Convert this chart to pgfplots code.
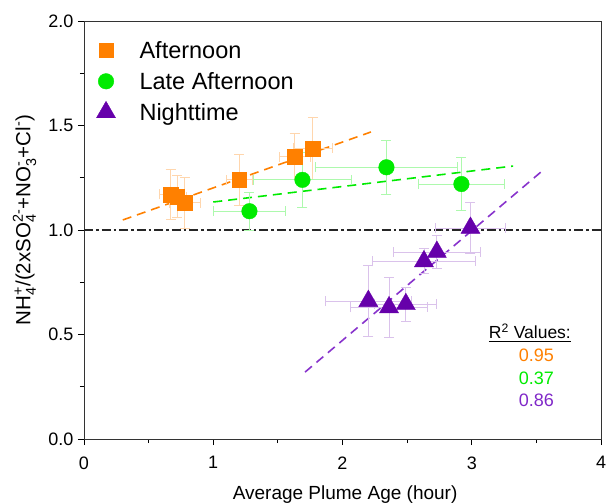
\documentclass[border=0pt]{standalone}
\usepackage{amsmath}
\usepackage{fontspec}
\setmainfont{Liberation Sans}
\usepackage{pgfplots}
\pgfplotsset{compat=1.18}
\definecolor{cOr}{RGB}{255,128,0}
\definecolor{cGr}{RGB}{0,235,0}
\definecolor{cPu}{RGB}{102,0,170}
\definecolor{cPuL}{RGB}{136,51,204}
\definecolor{cPuT}{RGB}{128,40,200}
\begin{document}
\begin{tikzpicture}
\begin{axis}[
  scale only axis, width=517bp, height=418bp,
  xmin=0, xmax=4, ymin=0, ymax=2,
  xtick={0,1,2,3,4}, ytick={0,0.5,1,1.5,2},
  minor xtick={0.5,1.5,2.5,3.5}, minor ytick={0.25,0.75,1.25,1.75},
  yticklabel style={xshift=-1bp, /pgf/number format/.cd, fixed, fixed zerofill, precision=1},
  /pgf/number format/assume math mode=true,
  tick pos=left, tick align=outside,
  major tick length=6bp, minor tick length=4bp,
  every tick/.style={black, line width=0.8pt},
  axis line style={line width=0.9pt, black!80},
  ticklabel style={font=\fontsize{18bp}{20bp}\selectfont},
  xticklabel style={yshift=-8bp},
  xlabel={Average Plume Age (hour)},
  ylabel={NH$_{\text{4}}^{\text{+}}$/(2xSO$_{\text{4}}^{\text{2-}}$+NO$_{\text{3}}^{\text{-}}$+Cl$^{\text{-}}$)},
  every axis x label/.style={at={(axis description cs:0.505,-0.134)}, anchor=center, font=\fontsize{19bp}{22bp}\selectfont},
  every axis y label/.style={at={(axis description cs:-0.115,0.524)}, rotate=90, anchor=center, font=\fontsize{20.5bp}{23bp}\selectfont},
  legend style={at={(axis description cs:0.018,0.962)}, anchor=north west, draw=none, fill=none,
    font=\fontsize{23.5bp}{26bp}\selectfont, row sep=8.5bp, cells={anchor=west}},
  legend cell align=left,
  clip=false,
]
% fit lines
\addplot[cOr, line width=1.6pt, dash pattern=on 9bp off 6bp, forget plot] coordinates {(0.30,1.048) (2.22,1.469)};
\addplot[cGr, line width=1.6pt, dash pattern=on 9bp off 6bp, forget plot] coordinates {(1.00,1.134) (3.32,1.306)};
\addplot[cPuL, line width=1.6pt, dash pattern=on 9bp off 6bp, forget plot] coordinates {(1.71,0.32) (3.54,1.28)};
% 1.0 reference line
\addplot[black!85, line width=1.3pt, dash pattern=on 9bp off 3bp on 2.5bp off 3bp, forget plot] coordinates {(0,1) (4,1)};
% Afternoon
\addplot[only marks, mark=square*, mark size=7.3bp, color=cOr,
  error bars/.cd, x dir=both, x explicit, y dir=both, y explicit,
  error bar style={cOr!32, line width=0.8pt},
  error mark options={rotate=90, mark size=5bp, cOr!32, line width=0.8pt}]
  table[x=x, y=y, x error=ex, y error=ey] {
x y ex ey
0.67 1.17 0.085 0.12
0.72 1.16 0.07 0.10
0.78 1.13 0.12 0.12
1.20 1.24 0.10 0.12
1.63 1.35 0.12 0.11
1.77 1.39 0.15 0.15
};
\addlegendentry{\hspace{22bp}Afternoon}
% Late afternoon
\addplot[only marks, mark=*, mark size=7.8bp, color=cGr,
  error bars/.cd, x dir=both, x explicit, y dir=both, y explicit,
  error bar style={cGr!32, line width=0.8pt},
  error mark options={rotate=90, mark size=5bp, cGr!32, line width=0.8pt}]
  table[x=x, y=y, x error=ex, y error=ey] {
x y ex ey
1.28 1.09 0.28 0.09
1.69 1.24 0.38 0.13
2.34 1.30 0.55 0.13
2.92 1.22 0.33 0.125
};
\addlegendentry{\hspace{22bp}Late Afternoon}
% Nighttime
\addplot[only marks, mark=triangle*, mark size=11bp, color=cPu,
  error bars/.cd, x dir=both, x explicit, y dir=both, y explicit,
  error bar style={cPu!24, line width=0.8pt},
  error mark options={rotate=90, mark size=5bp, cPu!24, line width=0.8pt}]
  table[x=x, y=y, x error=ex, y error=ey] {
x y ex ey
2.20 0.66 0.33 0.17
2.36 0.63 0.30 0.145
2.49 0.645 0.24 0.08
2.63 0.85 0.40 0.06
2.73 0.895 0.34 0.08
2.99 1.01 0.27 0.12
};
\addlegendentry{\hspace{22bp}Nighttime}
\node[font=\fontsize{17.5bp}{20bp}\selectfont] at (axis cs:3.45,0.507) {\underline{R\textsuperscript{2} Values:}};
\node[font=\fontsize{18bp}{20bp}\selectfont, text=cOr] at (axis cs:3.50,0.40) {0.95};
\node[font=\fontsize{18bp}{20bp}\selectfont, text=cGr] at (axis cs:3.50,0.29) {0.37};
\node[font=\fontsize{18bp}{20bp}\selectfont, text=cPuT] at (axis cs:3.50,0.187) {0.86};
\end{axis}
\pgfresetboundingbox
\path ([shift={(-84bp,-64bp)}]current axis.south west) rectangle ([shift={(9bp,21bp)}]current axis.north east);
\end{tikzpicture}
\end{document}
